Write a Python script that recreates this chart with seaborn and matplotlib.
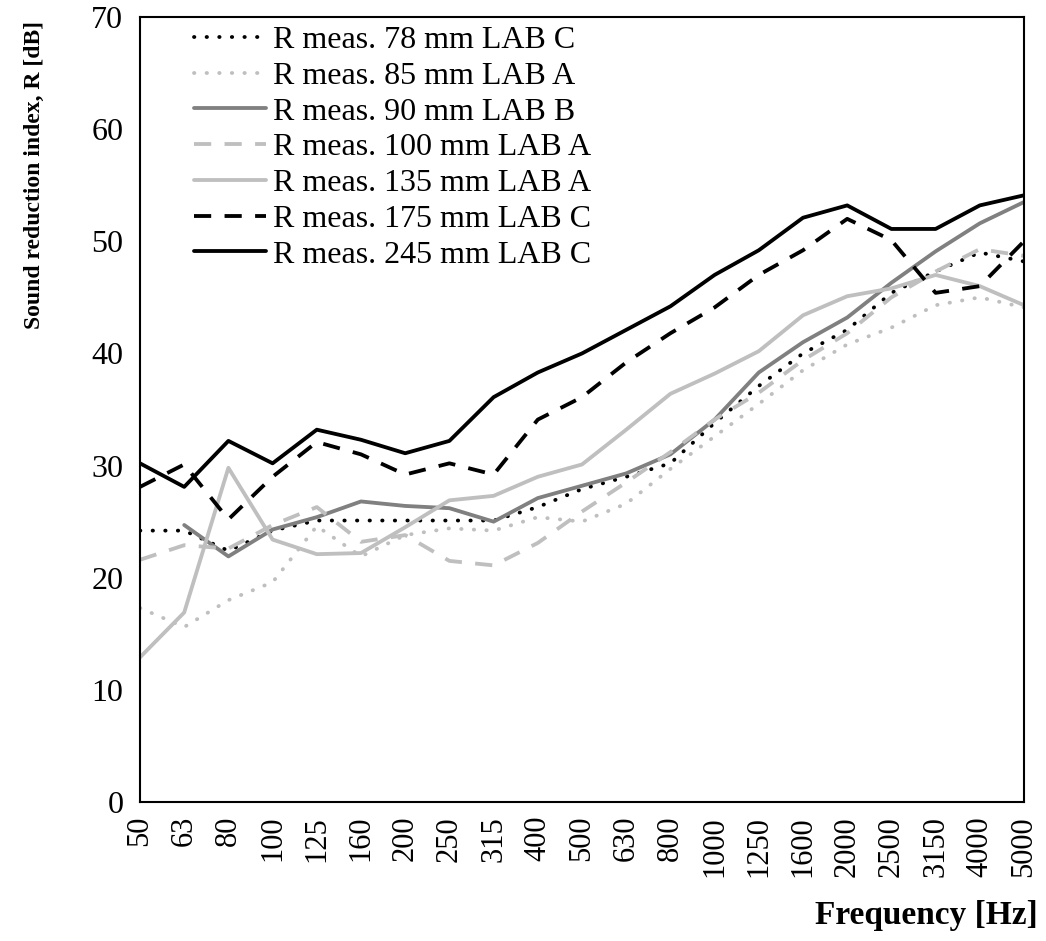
import matplotlib
matplotlib.use("Agg")
import matplotlib.pyplot as plt
import seaborn as sns
import pandas as pd
import numpy as np

freq_labels = ['50', '63', '80', '100', '125', '160', '200', '250', '315', '400', '500',
               '630', '800', '1000', '1250', '1600', '2000', '2500', '3150', '4000', '5000']

r_78_lab_c = [24.2, 24.2, 22.4, 24.2, 25.1, 25.1, 25.1, 25.1, 25.1, 26.3, 27.9,
              29.0, 30.2, 33.8, 37.1, 40.0, 42.1, 45.4, 47.3, 49.0, 48.2]
r_85_lab_a = [17.3, 15.6, 18.0, 19.6, 24.6, 21.9, 23.8, 24.4, 24.2, 25.4, 25.0,
              26.6, 29.7, 32.6, 35.5, 38.5, 40.8, 42.3, 44.3, 45.0, 44.1]
r_90_lab_b = [None, 24.7, 21.9, 24.3, 25.4, 26.8, 26.4, 26.2, 25.0, 27.1, 28.2,
              29.3, 31.0, 34.1, 38.3, 41.0, 43.2, 46.3, 49.1, 51.6, 53.5]
r_100_lab_a = [21.6, 22.9, 22.6, 24.7, 26.3, 23.2, 23.8, 21.5, 21.1, 23.1, 25.9,
               28.5, 31.2, 34.1, 36.5, 39.4, 41.8, 45.0, 47.3, 49.3, 48.7]
r_135_lab_a = [12.9, 16.9, 29.8, 23.4, 22.1, 22.2, 24.5, 26.9, 27.3, 29.0, 30.1,
               33.2, 36.4, 38.2, 40.2, 43.4, 45.1, 45.8, 47.0, 46.0, 44.3]
r_175_lab_c = [28.1, 30.1, 25.2, 29.0, 32.1, 31.0, 29.2, 30.2, 29.2, 34.1, 36.1,
               39.2, 41.8, 44.1, 47.0, 49.2, 52.0, 50.1, 45.4, 46.0, 50.0]
r_245_lab_c = [30.2, 28.1, 32.2, 30.2, 33.2, 32.3, 31.1, 32.2, 36.1, 38.3, 40.0,
               42.1, 44.2, 47.0, 49.2, 52.1, 53.2, 51.1, 51.1, 53.2, 54.1]

series_names = ['R meas. 78 mm LAB C', 'R meas. 85 mm LAB A', 'R meas. 90 mm LAB B',
                'R meas. 100 mm LAB A', 'R meas. 135 mm LAB A', 'R meas. 175 mm LAB C',
                'R meas. 245 mm LAB C']
series_values = [r_78_lab_c, r_85_lab_a, r_90_lab_b, r_100_lab_a, r_135_lab_a,
                 r_175_lab_c, r_245_lab_c]

y_ticks = [0, 10, 20, 30, 40, 50, 60, 70]

dot = (0, (0.1, 3.2))
dash = (0, (4.5, 3.5))
styles = [
    dict(color='#000000', linestyle=dot, dash_capstyle='round'),
    dict(color='#bfbfbf', linestyle=dot, dash_capstyle='round'),
    dict(color='#808080', linestyle='-', solid_capstyle='round'),
    dict(color='#bfbfbf', linestyle=dash, dash_capstyle='butt'),
    dict(color='#bfbfbf', linestyle='-', solid_capstyle='round'),
    dict(color='#000000', linestyle=dash, dash_capstyle='butt'),
    dict(color='#000000', linestyle='-', solid_capstyle='round'),
]

sns.set_theme(style='white')
plt.rcParams['font.family'] = ['Liberation Serif', 'DejaVu Serif']
plt.rcParams['axes.linewidth'] = 1.5
plt.rcParams['axes.edgecolor'] = 'black'

fig = plt.figure(figsize=(10.46, 9.41), dpi=100)
ax = fig.add_axes([140 / 1046, 1 - 802 / 941, 884 / 1046, 785 / 941])

# establish category order on the x axis
ax.plot(freq_labels, [np.nan] * len(freq_labels))

for name, vals, st in zip(series_names, series_values, styles):
    df = pd.DataFrame({'freq': freq_labels, 'R': vals}).dropna()
    sns.lineplot(data=df, x='freq', y='R', ax=ax, sort=False, label=name,
                 linewidth=2.75, **st)

ax.set_xlim(0, len(freq_labels) - 1)
ax.set_ylim(0, 70)
ax.set_yticks(y_ticks)
ax.set_yticklabels([str(t) for t in y_ticks], fontsize=23)
ax.set_xticks(range(len(freq_labels)))
ax.set_xticklabels(freq_labels, rotation=90, fontsize=22)
ax.tick_params(axis='x', direction='out', length=7, width=1.3, color='black', pad=3)
ax.tick_params(axis='y', length=0, pad=12)
for lab in ax.get_xticklabels() + ax.get_yticklabels():
    lab.set_color('black')
for sp in ax.spines.values():
    sp.set_visible(True)
    sp.set_color('black')
    sp.set_linewidth(1.5)

ax.set_ylabel('Sound reduction index, R [dB]', fontsize=17, fontweight='bold',
              color='black', loc='top')
ax.yaxis.set_label_coords(-0.107, 0.995)
ax.set_xlabel('Frequency [Hz]', fontsize=24, fontweight='bold', color='black')
ax.xaxis.set_label_coords(1.015, -0.144)
ax.xaxis.label.set_ha('right')
ax.xaxis.label.set_va('center')

leg = ax.legend(loc='upper left', bbox_to_anchor=(0.058, 0.993), frameon=False,
                fontsize=23, handlelength=2.25, handletextpad=0.22,
                labelspacing=0.2, borderaxespad=0, borderpad=0.1)
for t in leg.get_texts():
    t.set_color('black')

fig.savefig('out.png', dpi=100, facecolor='white')
